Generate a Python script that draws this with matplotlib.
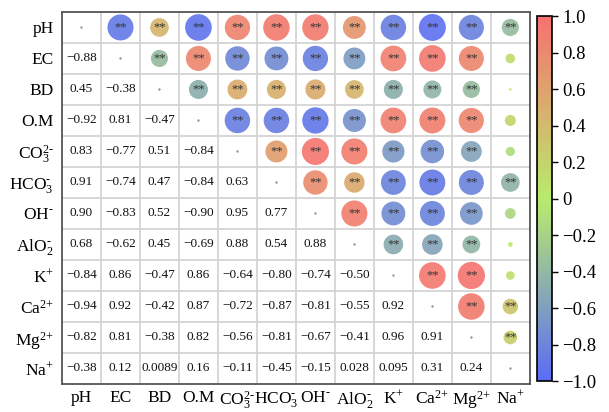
import matplotlib
matplotlib.use("Agg")
import matplotlib.pyplot as plt
import numpy as np
from matplotlib.colors import LinearSegmentedColormap, Normalize

plt.rcParams["font.family"] = ["Liberation Serif", "DejaVu Serif"]
plt.rcParams["mathtext.fontset"] = "custom"
plt.rcParams["mathtext.rm"] = "Liberation Serif"
plt.rcParams["mathtext.it"] = "Liberation Serif:italic"

labels = [
    "pH", "EC", "BD", "O.M",
    r"CO$_3^{2\text{-}}$", r"HCO$_3^{\text{-}}$", r"OH$^{\text{-}}$", r"AlO$_2^{\text{-}}$",
    r"K$^{\text{+}}$", r"Ca$^{2\text{+}}$", r"Mg$^{2\text{+}}$", r"Na$^{\text{+}}$",
]

# lower triangle of the correlation matrix, row by row
lower_rows = [
    [],
    [-0.88],
    [0.45, -0.38],
    [-0.92, 0.81, -0.47],
    [0.83, -0.77, 0.51, -0.84],
    [0.91, -0.74, 0.47, -0.84, 0.63],
    [0.90, -0.83, 0.52, -0.90, 0.95, 0.77],
    [0.68, -0.62, 0.45, -0.69, 0.88, 0.54, 0.88],
    [-0.84, 0.86, -0.47, 0.86, -0.64, -0.80, -0.74, -0.50],
    [-0.94, 0.92, -0.42, 0.87, -0.72, -0.87, -0.81, -0.55, 0.92],
    [-0.82, 0.81, -0.38, 0.82, -0.56, -0.81, -0.67, -0.41, 0.96, 0.91],
    [-0.38, 0.12, 0.0089, 0.16, -0.11, -0.45, -0.15, 0.028, 0.095, 0.31, 0.24],
]
sig_threshold = 0.2

n = len(labels)
corr = np.eye(n)
for i, row in enumerate(lower_rows):
    for j, v in enumerate(row):
        corr[i, j] = v
        corr[j, i] = v

cmap = LinearSegmentedColormap.from_list(
    "corr", [(0.0, "#5B6CF7"), (0.5, "#B9EB6B"), (1.0, "#F87171")]
)
norm = Normalize(vmin=-1, vmax=1)


def fmt_value(v):
    s = f"{v:.2f}" if abs(v) >= 0.1 else f"{v:.2g}"
    return s.replace("-", "\u2212")


fig = plt.figure(figsize=(6.09, 4.12), dpi=100)
ax = fig.add_axes([0.1018, 0.068, 0.7682, 0.903])
cax = fig.add_axes([0.882, 0.075, 0.0246, 0.886])

# upper triangle: circles, area proportional to |r|
xs, ys, cs, ss = [], [], [], []
for i in range(n):
    for j in range(i + 1, n):
        xs.append(j)
        ys.append(i)
        cs.append(corr[i, j])
        ss.append(400 * abs(corr[i, j]))
ax.scatter(xs, ys, s=ss, c=cs, cmap=cmap, norm=norm, alpha=0.92,
           linewidths=0, zorder=3)
for x, y, v in zip(xs, ys, cs):
    if abs(v) >= sig_threshold:
        ax.text(x, y - 0.02, "**", ha="center", va="center", fontsize=9,
                color="#333333", zorder=4)

# diagonal: tiny dots
ax.scatter(np.arange(n), np.arange(n), s=0.4, color="#888888", zorder=3)

# lower triangle: numbers
for i in range(n):
    for j in range(i):
        ax.text(j, i, fmt_value(corr[i, j]), ha="center", va="center",
                fontsize=9.5, color="#111111", zorder=4)

ax.set_xlim(-0.5, n - 0.5)
ax.set_ylim(n - 0.5, -0.5)
for k in range(1, n):
    ax.axhline(k - 0.5, color="#D4D4D4", lw=1.3, zorder=1)
    ax.axvline(k - 0.5, color="#D4D4D4", lw=1.3, zorder=1)
for spine in ax.spines.values():
    spine.set_color("#555555")
    spine.set_linewidth(1.3)

ax.set_xticks(np.arange(n))
ax.set_yticks(np.arange(n))
ax.set_xticklabels(labels, fontsize=12.5)
ax.set_yticklabels(labels, fontsize=12.5)
ax.tick_params(axis="x", length=0, pad=4)
ax.tick_params(axis="y", length=0, pad=6)

cb = fig.colorbar(plt.cm.ScalarMappable(norm=norm, cmap=cmap), cax=cax)
ticks = np.round(np.arange(-1.0, 1.01, 0.2), 1)
cb.set_ticks(ticks)
cb.set_ticklabels(["0" if t == 0 else f"{t:.1f}".replace("-", "\u2212") for t in ticks])
cb.ax.tick_params(labelsize=13.5, length=4, width=1)
cb.outline.set_linewidth(1.2)

fig.savefig("out.png", dpi=100)
